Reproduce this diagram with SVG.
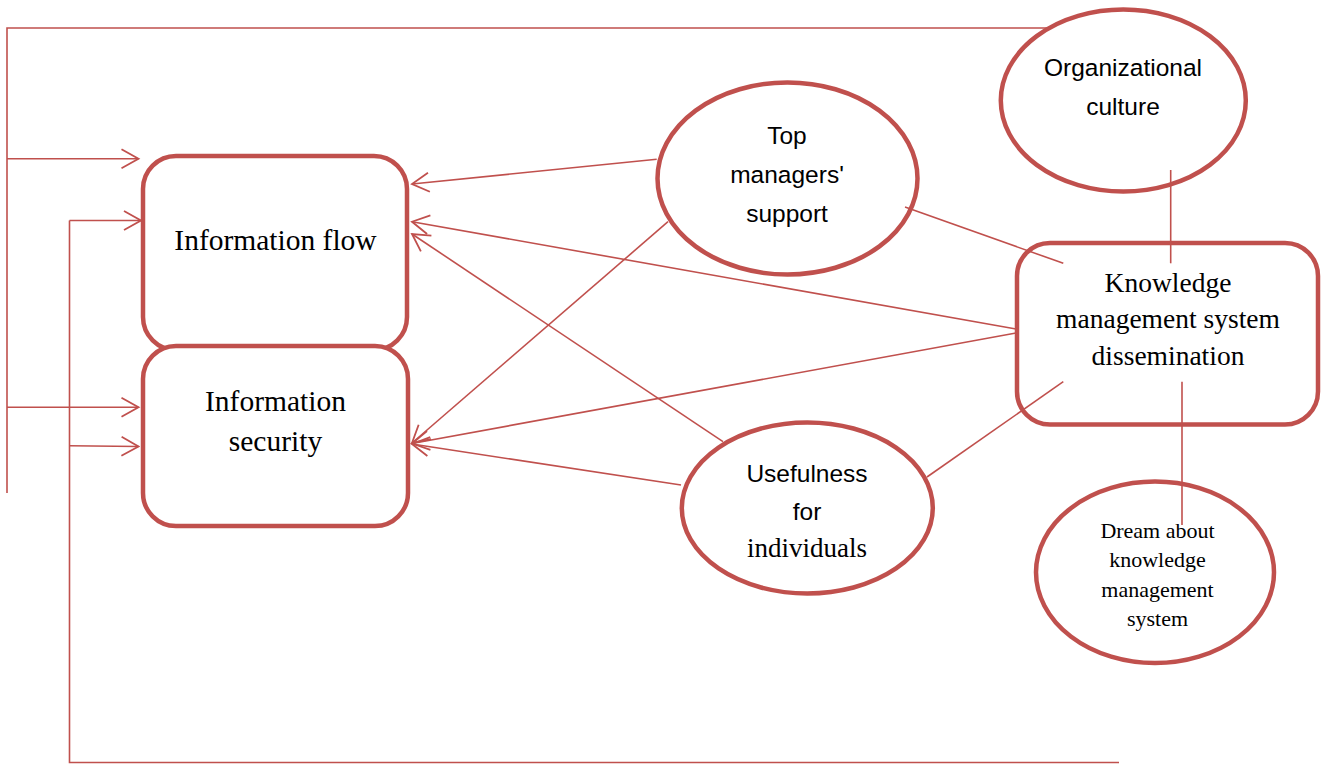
<svg xmlns="http://www.w3.org/2000/svg" width="1322" height="765" viewBox="0 0 1322 765">
<style>
.node{fill:#fff;stroke:#C0504D;stroke-width:4.5}
.ln{fill:none;stroke:#C0504D;stroke-width:1.6}
.arr{marker-end:url(#ah)}
.tm{font-family:"Liberation Serif","Times New Roman",serif;fill:#000;text-anchor:middle}
.sn{font-family:"Liberation Sans",Arial,sans-serif;fill:#000;text-anchor:middle;font-size:24.5px}
</style>
<defs>
<marker id="ah" markerUnits="userSpaceOnUse" viewBox="-19 -11 21 22" refX="0" refY="0" markerWidth="21" markerHeight="22" orient="auto">
<path d="M-17,-9.5 L0,0 L-17,9.5" fill="none" stroke="#C0504D" stroke-width="1.8"/>
</marker>
</defs>
<rect width="1322" height="765" fill="#fff"/>
<g id="info-flow">
<rect class="node" x="143" y="156" width="264" height="194" rx="33" ry="33"/>
<text class="tm" x="275.5" y="250" font-size="29.5">Information flow</text>
</g>
<g id="info-security">
<rect class="node" x="143" y="346" width="265" height="180" rx="33" ry="33"/>
<text class="tm" x="275.5" y="411" font-size="29.5">Information</text>
<text class="tm" x="275.5" y="451" font-size="29.5">security</text>
</g>
<g id="top-managers">
<ellipse class="node" cx="787.5" cy="178.5" rx="130" ry="96"/>
<text class="sn" x="787" y="144">Top</text>
<text class="sn" x="787" y="183">managers'</text>
<text class="sn" x="787" y="222">support</text>
</g>
<g id="org-culture">
<ellipse class="node" cx="1123.3" cy="100.5" rx="122.5" ry="91"/>
<text class="sn" x="1123" y="76">Organizational</text>
<text class="sn" x="1123" y="115">culture</text>
</g>
<g id="kms">
<rect class="node" x="1017" y="243" width="301" height="181.5" rx="33" ry="33"/>
<text class="tm" x="1168" y="292" font-size="27.5">Knowledge</text>
<text class="tm" x="1168" y="328" font-size="27.5">management system</text>
<text class="tm" x="1168" y="365" font-size="27.5">dissemination</text>
</g>
<g id="usefulness">
<ellipse class="node" cx="807.3" cy="508" rx="125.5" ry="85.5"/>
<text class="sn" x="807" y="482">Usefulness</text>
<text class="sn" x="807" y="520">for</text>
<text class="tm" x="807" y="557" font-size="27">individuals</text>
</g>
<g id="dream">
<ellipse class="node" cx="1155" cy="572.3" rx="119" ry="90.7"/>
<text class="tm" x="1157.5" y="538" font-size="22">Dream about</text>
<text class="tm" x="1157.5" y="567" font-size="22">knowledge</text>
<text class="tm" x="1157.5" y="597" font-size="22">management</text>
<text class="tm" x="1157.5" y="626" font-size="22">system</text>
</g>
<g id="connectors">
<polyline class="ln" points="1047,28 7,28 7,493"/>
<line class="ln arr" x1="7" y1="158.7" x2="138.5" y2="158.7"/>
<line class="ln arr" x1="7" y1="407.3" x2="138.5" y2="407.3"/>
<polyline class="ln" points="1119,762.5 69.5,762.5 69.5,220.5"/>
<line class="ln arr" x1="69.5" y1="220.5" x2="141" y2="220.5"/>
<line class="ln arr" x1="69.5" y1="445.7" x2="138.5" y2="446.5"/>
<line class="ln arr" x1="656.7" y1="159.3" x2="412" y2="184"/>
<line class="ln arr" x1="1016" y1="329" x2="412" y2="221.7"/>
<line class="ln arr" x1="723" y1="441.7" x2="412" y2="234"/>
<line class="ln arr" x1="668" y1="221.7" x2="412" y2="443"/>
<line class="ln arr" x1="1016" y1="333" x2="412" y2="443.5"/>
<line class="ln arr" x1="681" y1="485" x2="412" y2="444"/>
<line class="ln" x1="905" y1="207" x2="1063.3" y2="263.3"/>
<line class="ln" x1="927" y1="477" x2="1063.3" y2="381.7"/>
<line class="ln" x1="1170.7" y1="170" x2="1170.7" y2="263.3"/>
<line class="ln" x1="1182" y1="381.7" x2="1182" y2="525"/>
</g>
</svg>
